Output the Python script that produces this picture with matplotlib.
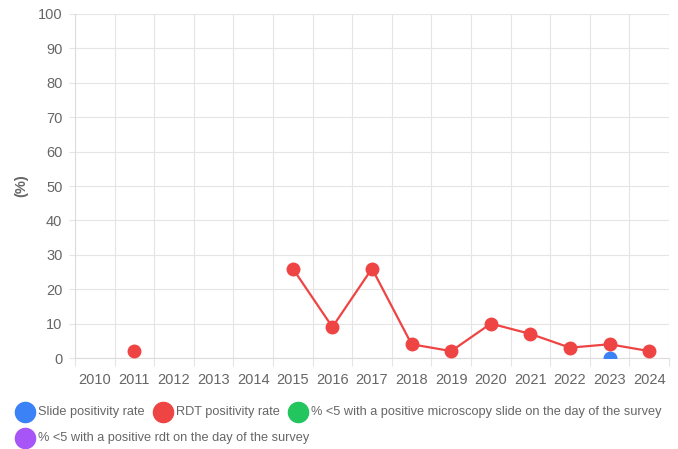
import numpy as np
import matplotlib
matplotlib.use("Agg")
import matplotlib.pyplot as plt
from matplotlib.lines import Line2D

plt.rcParams['font.family'] = ['Liberation Sans', 'DejaVu Sans']

years = [str(y) for y in range(2010, 2025)]
nan = np.nan
slide_rate = [nan, nan, nan, nan, nan, nan, nan, nan, nan, nan, nan, nan, nan, 0, nan]
rdt_rate = [nan, 2, nan, nan, nan, 26, 9, 26, 4, 2, 10, 7, 3, 4, 2]
legend_labels = ['Slide positivity rate', 'RDT positivity rate',
                 '% <5 with a positive microscopy slide on the day of the survey',
                 '% <5 with a positive rdt on the day of the survey']
colors = ['#3b82f6', '#ef4444', '#22c55e', '#a855f7']

W, H = 678, 449
fig = plt.figure(figsize=(W / 100, H / 100), dpi=100)
ax = fig.add_axes([75 / W, 91 / H, (669 - 75) / W, (435 - 91) / H])

x = np.arange(len(years))
grid_c = '#e5e5e5'
text_c = '#666666'

ax.plot(x, slide_rate, color=colors[0], marker='o', markersize=9, lw=1.6, zorder=3)
ax.plot(x, rdt_rate, color=colors[1], marker='o', markersize=9, lw=1.6, zorder=4)

ax.set_xlim(-0.5, len(years) - 0.5)
ax.set_ylim(0, 100)
ax.set_yticks(np.arange(0, 101, 10))
ax.set_xticks(np.arange(-0.5, len(years)), labels=[])
ax.set_xticks(x, labels=years, minor=True)

ax.grid(True, color=grid_c, lw=0.8)
ax.set_axisbelow(True)
for s in ['top', 'right']:
    ax.spines[s].set_visible(False)
for s in ['left', 'bottom']:
    ax.spines[s].set_color('#dcdcdc')
    ax.spines[s].set_linewidth(0.8)

ax.tick_params(axis='x', which='major', length=6, color=grid_c, width=0.8)
ax.tick_params(axis='x', which='minor', length=0, pad=11, labelsize=10.5, labelcolor=text_c)
ax.tick_params(axis='y', length=4, color=grid_c, width=0.8, pad=5, labelsize=10.5, labelcolor=text_c)

ax.set_ylabel('(%)', fontsize=10.5, fontweight='bold', color=text_c, labelpad=7)

# legend drawn by hand below the chart
rows = [(412, [(25, 0), (163, 1), (298, 2)]), (438, [(25, 3)])]
for ypix, items in rows:
    for xpix, i in items:
        fy = 1 - ypix / H
        fig.add_artist(Line2D([xpix / W], [fy], marker='o', markersize=14.5,
                              color=colors[i], transform=fig.transFigure))
        fig.text((xpix + 13) / W, fy, legend_labels[i], fontsize=9.2,
                 color=text_c, va='center', ha='left')

fig.savefig('out.png', dpi=100)
